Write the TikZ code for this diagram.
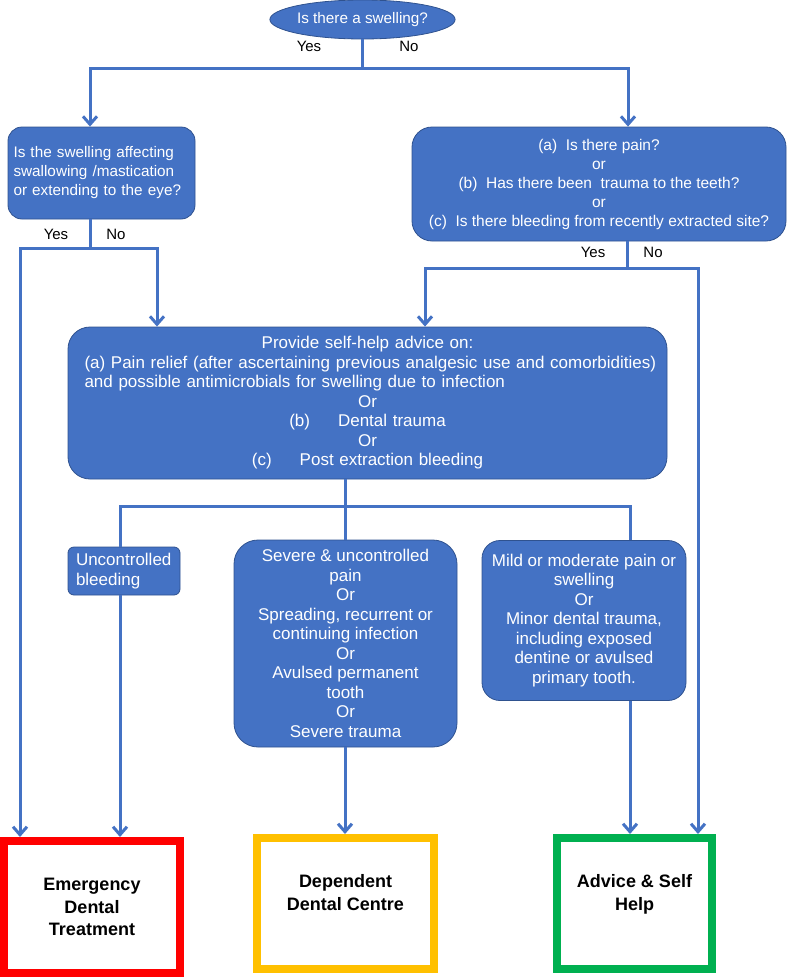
\documentclass[tikz,border=0pt]{standalone}
\usepackage{fontspec}
\setmainfont{Liberation Sans}
\usepackage{xcolor}
\usepackage{tikz}
\usetikzlibrary{shapes.geometric, arrows.meta, positioning}

\definecolor{boxblue}{HTML}{4472C4}
\definecolor{boxedge}{HTML}{2F528F}
\definecolor{edtred}{HTML}{FF0000}
\definecolor{ddcamber}{HTML}{FFC000}
\definecolor{selfgreen}{HTML}{00B050}

\begin{document}
\begin{tikzpicture}[
        x=1pt, y=-1pt,
        question/.style={rectangle, rounded corners=14pt, draw=boxedge, line width=0.8pt, fill=boxblue, text=white, align=center, font=\fontsize{15.5}{19}\selectfont},
        outcome/.style={rectangle, rounded corners=18pt, draw=boxedge, line width=0.8pt, fill=boxblue, text=white, align=center, inner sep=2pt, font=\fontsize{17}{19.5}\selectfont},
        endpoint/.style={rectangle, line width=8pt, fill=white, align=center, font=\bfseries\fontsize{18}{22.5}\selectfont},
        lbl/.style={font=\fontsize{15}{18}\selectfont, inner sep=0pt},
        flow/.style={draw=boxblue, line width=3pt},
        >={Straight Barb[length=8pt,width=14pt]}
    ]
    \useasboundingbox (0,0) rectangle (787,977);

    % questions
    \node (swell) [ellipse, draw=boxedge, line width=0.8pt, fill=boxblue, text=white, inner sep=0pt, minimum width=159, minimum height=39, font=\fontsize{15.3}{18}\selectfont] at (362.5,19.5) {Is there a swelling?};
    \node (eye) [question, minimum width=187, minimum height=92, text width=176, align=left, inner xsep=5.5pt, font=\fontsize{15.3}{19}\selectfont] at (101.5,173) {Is the swelling affecting\\swallowing /mastication\\or extending to the eye?};
    \node (pain) [question, rounded corners=20pt, minimum width=374, minimum height=114] at (599,184) {(a)\ \ Is there pain?\\or\\(b)\ \ Has there been\ \ trauma to the teeth?\\or\\(c)\ \ Is there bleeding from recently extracted site?};

    % advice
    \node (help) [outcome, rounded corners=22pt, minimum width=599, minimum height=152, text width=566] at (367.5,403) {Provide self-help advice on:\\
        \makebox[566pt][l]{(a) Pain relief (after ascertaining previous analgesic use and comorbidities)}\\
        \makebox[566pt][l]{and possible antimicrobials for swelling due to infection}\\
        Or\\(b)\hspace{28pt}Dental trauma\\Or\\(c)\hspace{28pt}Post extraction bleeding};

    % triage
    \node (bleed) [outcome, rounded corners=6pt, minimum width=112, minimum height=48, text width=96, align=left, inner xsep=8pt] at (124,571) {Uncontrolled\\bleeding};
    \node (severe) [outcome, rounded corners=24pt, minimum width=223, minimum height=207] at (345.5,643.5) {Severe \& uncontrolled\\pain\\Or\\Spreading, recurrent or\\continuing infection\\Or\\Avulsed permanent\\tooth\\Or\\Severe trauma};
    \node (mild) [outcome, rounded corners=18pt, minimum width=204, minimum height=160] at (584,620.5) {Mild or moderate pain or\\swelling\\Or\\Minor dental trauma,\\including exposed\\dentine or avulsed\\primary tooth.};

    % destinations
    \node (emerg) [endpoint, draw=edtred, minimum width=176, minimum height=132] at (92,907) {Emergency\\Dental\\Treatment};
    \node (dental) [endpoint, draw=ddcamber, minimum width=177, minimum height=131] at (345.5,903.5) {Dependent\\Dental Centre\\\mbox{}};
    \node (selfhelp) [endpoint, draw=selfgreen, minimum width=155, minimum height=131] at (634.5,903.5) {Advice \& Self\\Help\\\mbox{}};

    % yes / no
    \node (yes1) [lbl] at (309,46) {Yes};
    \node (no1) [lbl] at (409,46) {No};
    \node (yes2) [lbl] at (56,234) {Yes};
    \node (no2) [lbl] at (116,234) {No};
    \node (yes3) [lbl] at (593,252) {Yes};
    \node (no3) [lbl] at (653,252) {No};

    % junctions
    \coordinate (topL) at (90,68);
    \coordinate (topR) at (628,68);
    \coordinate (eyeJ) at (90,248);
    \coordinate (eyeL) at (20,248);
    \coordinate (eyeR) at (157,248);
    \coordinate (painJ) at (627,268);
    \coordinate (painL) at (425,268);
    \coordinate (painR) at (698,268);
    \coordinate (helpJ) at (345,506);
    \coordinate (outL) at (120,506);
    \coordinate (outR) at (630,506);

    \draw[flow] (swell.south) -- (swell.south |- topL);
    \draw[flow, <->] (topL |- eye.north) -- (topL) -- (topR) -- (topR |- pain.north);

    \draw[flow] (eyeJ |- eye.south) -- (eyeJ);
    \draw[flow, <->] (eyeL |- emerg.north) -- (eyeL) -- (eyeR) -- (eyeR |- help.north);

    \draw[flow] (painJ |- pain.south) -- (painJ);
    \draw[flow, <->] (painL |- help.north) -- (painL) -- (painR) -- (painR |- selfhelp.north);

    \draw[flow] (helpJ |- help.south) -- (helpJ) -- (helpJ |- severe.north);
    \draw[flow] (outL |- bleed.north) -- (outL) -- (outR) -- (outR |- mild.north);
    \draw[flow, ->] (outL |- bleed.south) -- (outL |- emerg.north);
    \draw[flow, ->] (helpJ |- severe.south) -- (helpJ |- dental.north);
    \draw[flow, ->] (outR |- mild.south) -- (outR |- selfhelp.north);
\end{tikzpicture}
\end{document}
